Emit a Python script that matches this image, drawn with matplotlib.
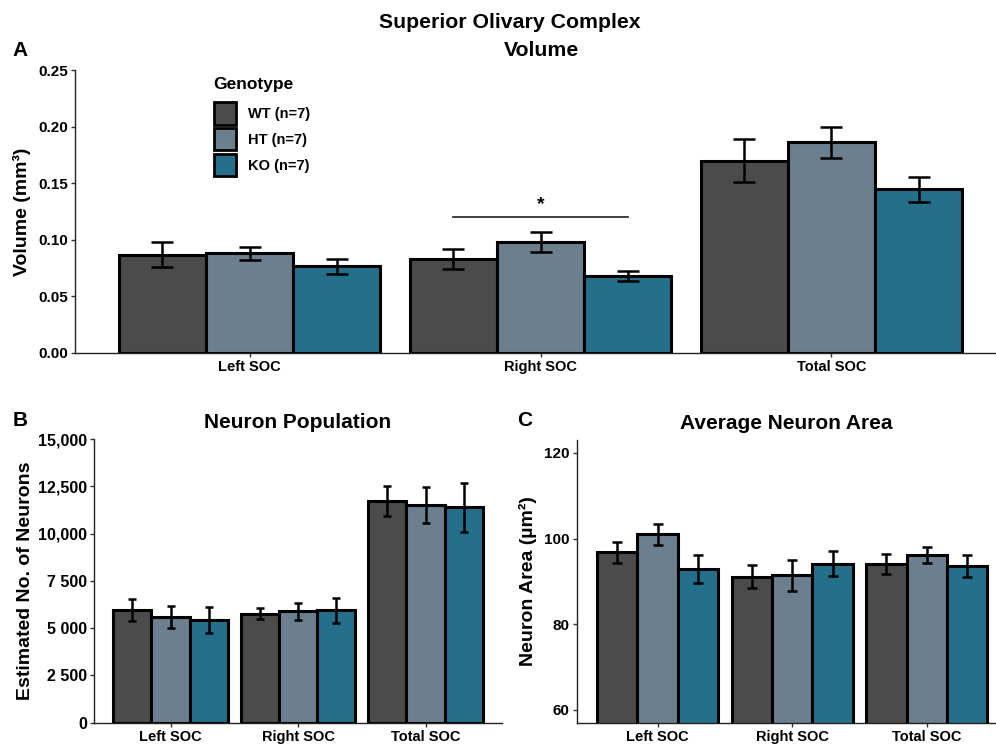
import matplotlib
matplotlib.use('Agg')
import matplotlib.pyplot as plt
from matplotlib.patches import Patch
import numpy as np

plt.rcParams['font.family'] = ['Liberation Sans', 'DejaVu Sans']
plt.rcParams['font.weight'] = 'bold'

# --- data ---
regions = ['Left SOC', 'Right SOC', 'Total SOC']
genotypes = ['WT (n=7)', 'HT (n=7)', 'KO (n=7)']
colors = ['#4b4b4b', '#6b7f8f', '#246f8a']

vol_mean = {'WT': [0.087, 0.083, 0.170], 'HT': [0.088, 0.098, 0.186], 'KO': [0.0767, 0.068, 0.1445]}
vol_err = {'WT': [0.011, 0.0085, 0.019], 'HT': [0.0058, 0.0088, 0.014], 'KO': [0.0067, 0.0047, 0.011]}

pop_mean = {'WT': [5950, 5770, 11720], 'HT': [5600, 5880, 11510], 'KO': [5450, 5950, 11400]}
pop_err = {'WT': [580, 310, 780], 'HT': [575, 450, 940], 'KO': [690, 665, 1300]}

area_mean = {'WT': [96.8, 91.1, 94.0], 'HT': [101.0, 91.4, 96.2], 'KO': [92.9, 94.1, 93.5]}
area_err = {'WT': [2.4, 2.7, 2.3], 'HT': [2.4, 3.6, 1.8], 'KO': [3.2, 2.9, 2.6]}

pop_ticks = [0, 2500, 5000, 7500, 10000, 12500, 15000]
pop_ticklabels = ['0', '2 500', '5 000', '7 500', '10,000', '12,500', '15,000']

W, H = 996, 744
fig = plt.figure(figsize=(W / 100, H / 100), dpi=100)


def px_axes(left, bottom, right, top):
    return fig.add_axes([left / W, 1 - bottom / H, (right - left) / W, (bottom - top) / H])


def draw_bars(ax, means, errs, capsize, tick_fs):
    x = np.arange(len(regions))
    w = 0.3
    for i, key in enumerate(['WT', 'HT', 'KO']):
        ax.bar(x + (i - 1) * w, means[key], width=w, color=colors[i],
               edgecolor='black', linewidth=2.2, zorder=2)
        ax.errorbar(x + (i - 1) * w, means[key], yerr=errs[key], fmt='none',
                    ecolor='black', elinewidth=1.8, capsize=capsize, capthick=1.8, zorder=3)
    ax.set_xlim(-0.6, 2.6)
    ax.set_xticks(x)
    ax.set_xticklabels(regions, fontsize=tick_fs, fontweight='bold')
    for s in ['top', 'right']:
        ax.spines[s].set_visible(False)
    for s in ['left', 'bottom']:
        ax.spines[s].set_linewidth(1.0)
        ax.spines[s].set_color('#222222')
    ax.tick_params(axis='both', length=3, width=1, color='#333333', pad=2)


# --- panel A ---
axA = px_axes(75, 353, 1006, 70)
draw_bars(axA, vol_mean, vol_err, 8, 10.5)
axA.set_ylim(0, 0.25)
axA.set_yticks([0, 0.05, 0.10, 0.15, 0.20, 0.25])
axA.set_yticklabels(['0.00', '0.05', '0.10', '0.15', '0.20', '0.25'], fontsize=11, fontweight='bold')
axA.set_ylabel('Volume (mm³)', fontsize=14, fontweight='bold', labelpad=5)
axA.plot([0.7, 1.3], [0.12, 0.12], color='#333333', linewidth=1.3, zorder=3)
axA.text(1.0, 0.1235, '*', ha='center', va='bottom', fontsize=14, fontweight='bold')

# legend (title drawn separately for spacing)
handles = [Patch(facecolor=c, edgecolor='black', linewidth=2) for c in colors]
leg = axA.legend(handles, genotypes, frameon=False,
                 loc='upper left', bbox_to_anchor=(0.149, 0.886),
                 fontsize=10.5, handlelength=1.52, handleheight=1.97,
                 labelspacing=0.25, handletextpad=0.8, borderaxespad=0, borderpad=0)
for t in leg.get_texts():
    t.set_fontweight('bold')
fig.text(213 / W, 1 - 84 / H, 'Genotype', ha='left', va='center', fontsize=12.5, fontweight='bold')

fig.text(510 / W, 1 - 22 / H, 'Superior Olivary Complex', ha='center', va='center',
         fontsize=15.3, fontweight='bold')
fig.text(541 / W, 1 - 50 / H, 'Volume', ha='center', va='center', fontsize=15.3, fontweight='bold')
fig.text(20 / W, 1 - 50 / H, 'A', ha='center', va='center', fontsize=15, fontweight='bold')

# --- panel B ---
axB = px_axes(94, 722.7, 502, 439)
draw_bars(axB, pop_mean, pop_err, 3, 10.5)
axB.set_ylim(0, 15000)
axB.set_yticks(pop_ticks)
axB.set_yticklabels(pop_ticklabels, fontsize=11.5, fontweight='bold')
axB.set_ylabel('Estimated No. of Neurons', fontsize=14, fontweight='bold', labelpad=3)
axB.set_title('Neuron Population', fontsize=15, fontweight='bold', pad=8)
fig.text(20 / W, 1 - 420 / H, 'B', ha='center', va='center', fontsize=15, fontweight='bold')

# --- panel C ---
axC = px_axes(576.7, 722.7, 1007.7, 440)
draw_bars(axC, area_mean, area_err, 3.5, 10.5)
axC.set_ylim(57, 123)
axC.set_yticks([60, 80, 100, 120])
axC.set_yticklabels(['60', '80', '100', '120'], fontsize=11, fontweight='bold')
axC.set_ylabel('Neuron Area (µm²)', fontsize=14, fontweight='bold', labelpad=5)
axC.set_title('Average Neuron Area', fontsize=15, fontweight='bold', pad=8)
axC.title.set_position((0.5 - (1007.7 - 996) / 2 / 431, 1.0))
fig.text(525 / W, 1 - 420 / H, 'C', ha='center', va='center', fontsize=15, fontweight='bold')

fig.savefig('out.png', dpi=100)
